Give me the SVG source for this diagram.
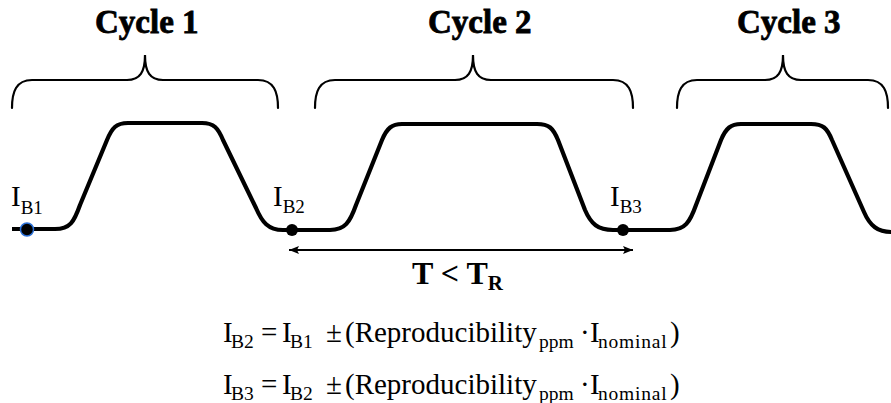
<svg xmlns="http://www.w3.org/2000/svg" width="891" height="403" viewBox="0 0 891 403">
<style>
.title{font-family:"Liberation Serif","Times New Roman",serif;font-weight:bold;font-size:33px;fill:#000;stroke:#000;stroke-width:0.8px}
.lbl{font-family:"Liberation Serif","Times New Roman",serif;font-size:29px;fill:#000}
.sub{font-size:19px}
.eq{font-family:"Liberation Serif","Times New Roman",serif;font-size:29px;fill:#000}
.esub{font-size:19.5px}
.brace{fill:none;stroke:#000;stroke-width:2.2;stroke-linecap:round}
.wave{fill:none;stroke:#000;stroke-width:4.2;stroke-linejoin:round}
.bold{font-family:"Liberation Serif","Times New Roman",serif;font-weight:bold;font-size:32px;fill:#000}
</style>
<defs>
<marker id="ah" viewBox="0 0 10 8" refX="10" refY="4" markerWidth="10" markerHeight="8" markerUnits="userSpaceOnUse" orient="auto-start-reverse">
<path d="M0,0 L10,4 L0,8 L2,4 Z" fill="#000"/>
</marker>
</defs>
<rect width="891" height="403" fill="#fff"/>

<g id="cycle1">
<text class="title" x="95" y="33">Cycle 1</text>
<path class="brace" d="M12,108 C12,92 16,80 32,80 L127,80 C140,80 145,72 145,55 C145,72 150,80 163,80 L258,80 C274,80 278,92 278,108"/>
</g>
<g id="cycle2">
<text class="title" x="428" y="33">Cycle 2</text>
<path class="brace" d="M315,108 C315,92 319,80 335,80 L455,80 C468,80 473,72 473,55 C473,72 478,80 491,80 L613,80 C629,80 633,92 633,108"/>
</g>
<g id="cycle3">
<text class="title" x="737" y="33">Cycle 3</text>
<path class="brace" d="M677,108 C677,92 681,80 697,80 L765,80 C778,80 783,72 783,55 C783,72 788,80 801,80 L868,80 C884,80 888,92 888,108"/>
</g>

<g id="waveform">
<path class="wave" d="M12,229 L55,229 C70,229 74,222 80,205 L107,140 C112,128 116,123 128,123 L202,123 C214,123 218,128 223,140 L256,208 C262,222 268,230 283,230 L330,230 C345,230 350,222 356,205 L382,140 C387,128 392,124 402,124 L537,124 C549,124 553,128 558,140 L585,210 C591,224 598,230 613,230 L670,230 C685,230 690,222 696,205 L721,140 C726,128 731,124 741,124 L811,124 C823,124 827,128 832,140 L864,212 C870,226 878,232 891,232"/>
</g>

<g id="IB1">
<circle cx="27" cy="229.5" r="6.5" fill="#000" stroke="#2a6fd6" stroke-width="1.5"/>
<text class="lbl" x="11" y="206">I<tspan class="sub" dy="8">B1</tspan></text>
</g>
<g id="IB2">
<circle cx="292" cy="230" r="6" fill="#000"/>
<text class="lbl" x="273" y="206">I<tspan class="sub" dy="7">B2</tspan></text>
</g>
<g id="IB3">
<circle cx="623" cy="230" r="6" fill="#000"/>
<text class="lbl" x="610" y="206">I<tspan class="sub" dy="7">B3</tspan></text>
</g>

<g id="connectors">
<line x1="289" y1="250" x2="633" y2="250" stroke="#000" stroke-width="2" marker-start="url(#ah)" marker-end="url(#ah)"/>
</g>

<g id="period">
<text class="bold" x="412" y="284">T &lt; T<tspan font-size="21" dy="6">R</tspan></text>
</g>

<g id="equations">
<text class="eq" y="342"><tspan x="223">I</tspan><tspan class="esub" x="231" dy="6">B2</tspan><tspan x="261" dy="-6">=</tspan><tspan x="282">I</tspan><tspan class="esub" x="290" dy="6">B1</tspan><tspan x="326" dy="-6">±</tspan><tspan x="345">(Reproducibility</tspan><tspan class="esub" x="539" dy="6">ppm</tspan><tspan x="580" dy="-6">·</tspan><tspan x="590">I</tspan><tspan class="esub" x="598" dy="6" letter-spacing="0.8">nominal</tspan><tspan x="670" dy="-6">)</tspan></text>
<text class="eq" y="394"><tspan x="223">I</tspan><tspan class="esub" x="231" dy="6">B3</tspan><tspan x="261" dy="-6">=</tspan><tspan x="282">I</tspan><tspan class="esub" x="290" dy="6">B2</tspan><tspan x="326" dy="-6">±</tspan><tspan x="345">(Reproducibility</tspan><tspan class="esub" x="539" dy="6">ppm</tspan><tspan x="580" dy="-6">·</tspan><tspan x="590">I</tspan><tspan class="esub" x="598" dy="6" letter-spacing="0.8">nominal</tspan><tspan x="670" dy="-6">)</tspan></text>
</g>
</svg>
